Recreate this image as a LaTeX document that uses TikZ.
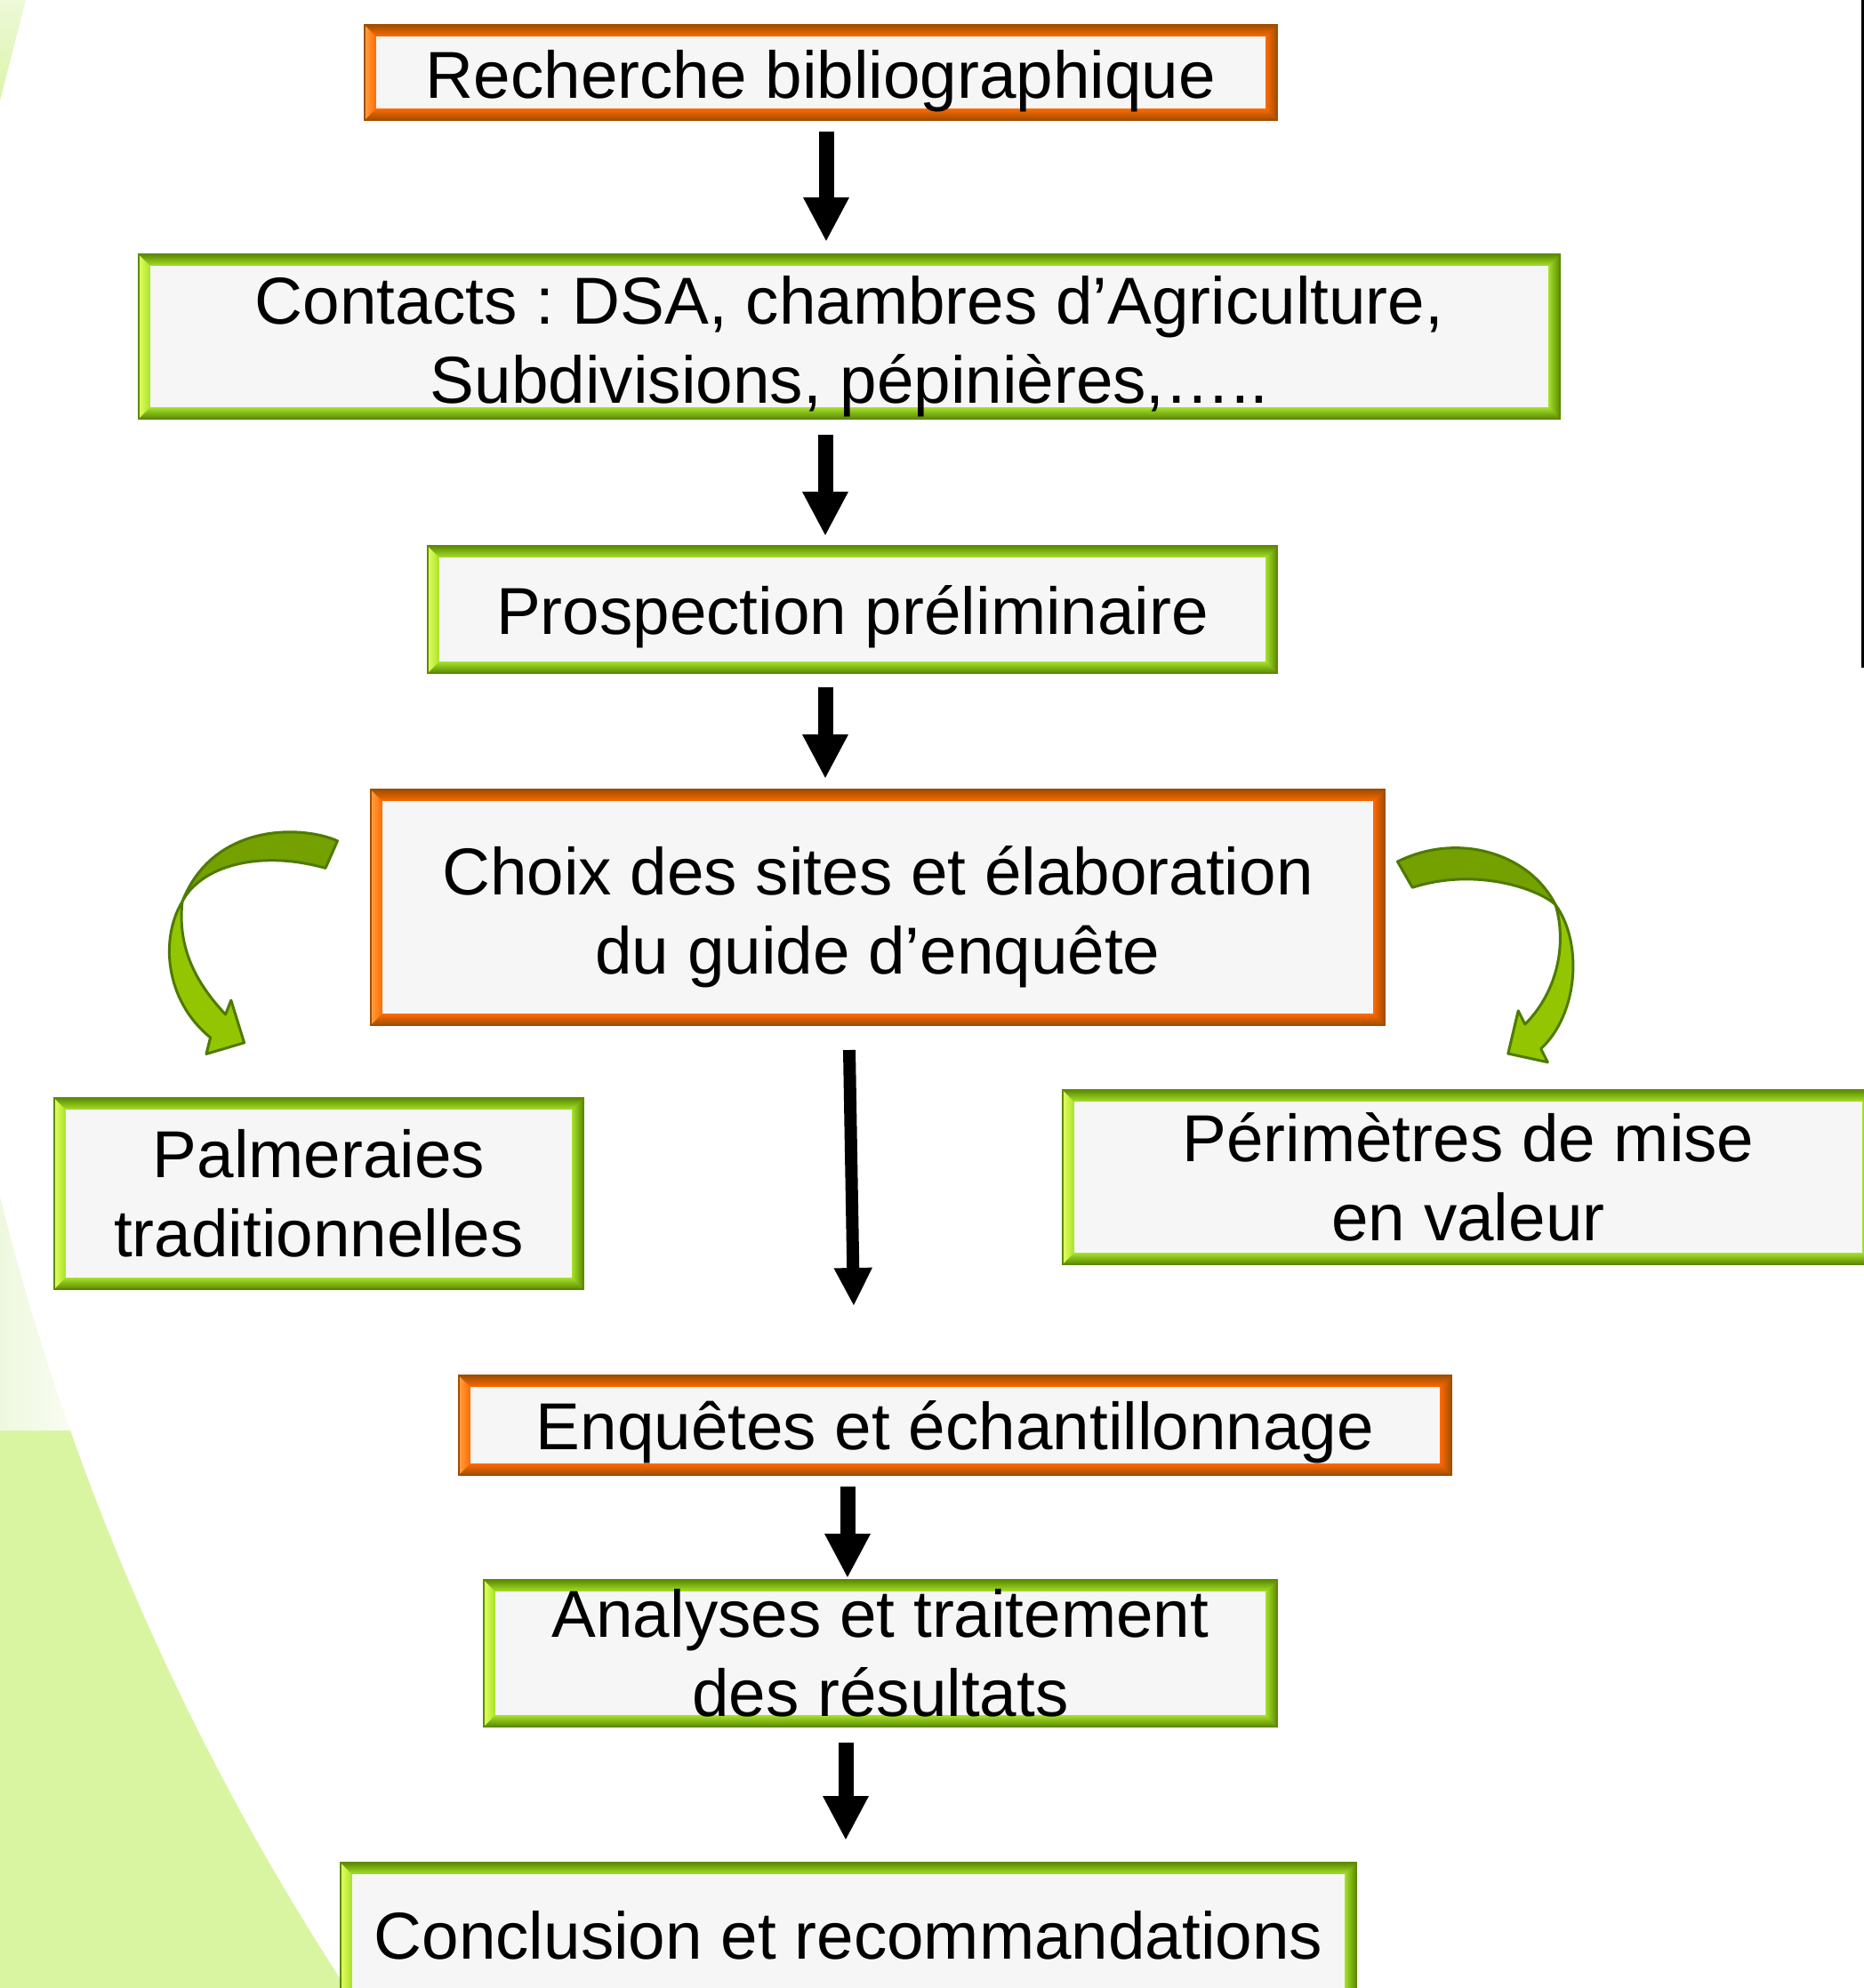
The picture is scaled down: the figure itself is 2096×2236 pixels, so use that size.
\documentclass[tikz,border=0pt]{standalone}
\usepackage{fontspec}
\setmainfont{Liberation Sans}
\usepackage{xcolor}
\usetikzlibrary{arrows.meta,calc,positioning}
\frenchspacing

\definecolor{orgmain}{HTML}{FF6A00}
\definecolor{orgdark}{HTML}{A04E00}
\definecolor{orglight}{HTML}{FFA040}
\definecolor{grnmain}{HTML}{A6E22B}
\definecolor{grndark}{HTML}{5C8A00}
\definecolor{grnlight}{HTML}{E4FF5C}
\definecolor{boxfill}{HTML}{F6F6F6}
\definecolor{curvedark}{HTML}{74A000}
\definecolor{curvelight}{HTML}{93C600}
\definecolor{curveline}{HTML}{4E7A00}
\definecolor{bggreen}{HTML}{D9F5A2}
\definecolor{bgpale}{HTML}{EEF8DE}
\definecolor{wedgetop}{HTML}{EDF9D8}
\definecolor{wedgebot}{HTML}{DCF4A8}

\newdimen\pxl
\pxl=0.02cm
\newcommand\firstline[1]{\rule{0pt}{#1}}

\tikzset{
	bevelbox/.style n args={3}{rectangle, inner sep=0pt, outer sep=0pt, fill=#1, draw=#2, line width=0.03cm,
		align=center, font=\fontsize{42.5}{50.6}\selectfont,
		path picture={
			\coordinate (bnw) at (path picture bounding box.north west);
			\coordinate (bse) at (path picture bounding box.south east);
			\shade[left color=#3, right color=#1] (bnw) rectangle ($(bnw |- bse)+(0.26cm,0)$);
			\shade[left color=#1, right color=#2] ($(bse |- bnw)+(-0.26cm,0)$) rectangle (bse);
			\shade[top color=#2, bottom color=#1] (bnw) -- (bse |- bnw) -- ++(-0.26cm,-0.26cm) -- ($(bnw)+(0.26cm,-0.26cm)$) -- cycle;
			\shade[top color=#1, bottom color=#2] (bnw |- bse) -- (bse) -- ++(-0.26cm,0.26cm) -- ($(bnw |- bse)+(0.26cm,0.26cm)$) -- cycle;
			\fill[boxfill] ($(bnw)+(0.26cm,-0.26cm)$) rectangle ($(bse)+(-0.26cm,0.26cm)$);
		}},
	orangebox/.style={bevelbox={orgmain}{orgdark}{orglight}},
	greenbox/.style={bevelbox={grnmain}{grndark}{grnlight}},
	pushdown/.style={execute at begin node={\rule{0pt}{#1}}},
	flowarrow/.style={line width=0.34cm, -{Triangle[width=0.96cm, length=1cm]}},
	longarrow/.style={line width=0.28cm, -{Triangle[width=0.8cm, length=0.86cm]}},
	curvepart/.style={draw=curveline, line width=0.06cm, line join=round},
}

\begin{document}
\begin{tikzpicture}[x=0.02cm, y=-0.02cm]
	\useasboundingbox (0,0) rectangle (2096,2236);
	\fill[white] (0,0) rectangle (2096,2236);
	\shade[left color=bgpale, right color=white] (0,1250) rectangle (130,1609);
	\fill[bggreen] (0,1609) rectangle (420,2236);
	\fill[white] (2846,632) circle[radius=58.68cm];
	\shade[top color=wedgetop, bottom color=wedgebot] (0,0) -- (29,0) -- (0,113) -- cycle;
	\draw[line width=0.06cm] (2094.5,0) -- (2094.5,751);

	\node[orangebox, minimum width=1026\pxl, minimum height=107\pxl, pushdown=73\pxl] (rech) at (923,81.5) {Recherche bibliographique};
	\node[greenbox, minimum width=1598\pxl, minimum height=185\pxl] (cont) at (955,378.5) {\firstline{76\pxl}Contacts : DSA, chambres d’Agriculture,\\Subdivisions, pépinières,…..};
	\node[greenbox, minimum width=955\pxl, minimum height=143\pxl, pushdown=71\pxl] (prosp) at (958.5,685.5) {Prospection préliminaire};
	\node[orangebox, minimum width=1140\pxl, minimum height=265\pxl] (choix) at (987,1020.5) {\firstline{76\pxl}Choix des sites et élaboration\\du guide d’enquête};
	\node[greenbox, minimum width=595\pxl, minimum height=215\pxl] (palm) at (358.5,1342.5) {Palmeraies\\traditionnelles};
	\node[greenbox, minimum width=912\pxl, minimum height=196\pxl] (perim) at (1651,1324) {Périmètres de mise\\en valeur};
	\node[orangebox, minimum width=1116\pxl, minimum height=112\pxl, pushdown=70\pxl] (enq) at (1074,1603) {Enquêtes et échantillonnage};
	\node[greenbox, minimum width=892\pxl, minimum height=165\pxl] (anal) at (990,1859.5) {Analyses et traitement\\des résultats};
	\node[greenbox, minimum width=1142\pxl, minimum height=163\pxl, pushdown=53\pxl] (concl) at (954,2176.5) {Conclusion et recommandations};

	\draw[flowarrow] ($(rech.south)+(6,13)$) -- ($(cont.north)+(-26,-14)$);
	\draw[flowarrow] ($(cont.south)+(-27,18)$) -- ($(prosp.north)+(-30.5,-11)$);
	\draw[flowarrow] ($(prosp.south)+(-30.5,16)$) -- ($(choix.north)+(-59,-12)$);
	\draw[longarrow] ($(choix.south)+(-32,28)$) -- ($(enq.north)+(-114,-78)$);
	\draw[flowarrow] ($(enq.south)+(-121,13)$) -- ($(anal.north)+(-37,-2)$);
	\draw[flowarrow] ($(anal.south)+(-39,18)$) -- ($(concl.north)+(-3,-25)$);

	\filldraw[curvepart, fill=curvedark] (379.5,945.8) .. controls (340,928) and (240,925) .. (205,1014)
		.. controls (225,975) and (290,955) .. (366,976.4) -- cycle;
	\filldraw[curvepart, fill=curvelight] (205,1014) .. controls (180,1055) and (185,1125) .. (236.6,1167)
		-- (232,1185.4) -- (274.6,1172.8) -- (259.8,1125) -- (253.6,1141)
		.. controls (215,1100) and (200,1060) .. (205,1014) -- cycle;
	\filldraw[curvepart, fill=curvedark] (1571.5,969.1) .. controls (1640,935) and (1720,960) .. (1749,1017.5)
		.. controls (1730,1000) and (1660,975) .. (1588.2,998.2) -- cycle;
	\filldraw[curvepart, fill=curvelight] (1749,1017.5) .. controls (1780,1060) and (1775,1140) .. (1732.7,1179.6)
		-- (1740.3,1194.7) -- (1695.8,1185) -- (1707.2,1136.8) -- (1714.8,1152)
		.. controls (1752,1115) and (1762,1060) .. (1749,1017.5) -- cycle;
\end{tikzpicture}
\end{document}
